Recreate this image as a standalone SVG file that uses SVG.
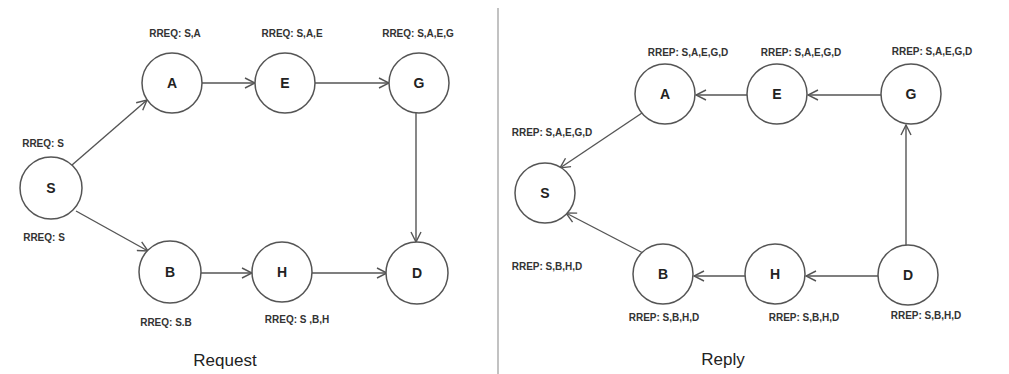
<svg xmlns="http://www.w3.org/2000/svg" width="1009" height="374" viewBox="0 0 1009 374">
<defs>
<style>
.n circle{fill:#fff;stroke:#555;stroke-width:1.5}
.n text{font-family:"Liberation Sans",Arial,sans-serif;font-weight:bold;font-size:14px;fill:#222;text-anchor:middle}
.lb{font-family:"Liberation Sans",Arial,sans-serif;font-weight:bold;font-size:10px;fill:#333;text-anchor:middle}
.cap{font-family:"Liberation Sans",Arial,sans-serif;font-size:17px;fill:#222;text-anchor:middle}
#edges line{stroke:#555;stroke-width:1.4;marker-end:url(#ah)}
</style>
<marker id="ah" viewBox="0 0 12 12" refX="11" refY="6" markerWidth="12" markerHeight="12" markerUnits="userSpaceOnUse" orient="auto">
<path d="M1,1 L11,6 L1,11" fill="none" stroke="#555" stroke-width="1.4"/>
</marker>
</defs>
<rect width="1009" height="374" fill="#fff"/>
<line x1="498" y1="8" x2="498" y2="374" stroke="#999" stroke-width="1.2"/>

<g id="edges">
<line x1="72" y1="165" x2="147" y2="100"/>
<line x1="202" y1="83" x2="255" y2="83"/>
<line x1="315" y1="83" x2="389" y2="83"/>
<line x1="416" y1="113" x2="416" y2="242"/>
<line x1="76" y1="211" x2="148" y2="251"/>
<line x1="200" y1="273" x2="252" y2="273"/>
<line x1="312" y1="273" x2="387" y2="273"/>
<line x1="642" y1="113" x2="560" y2="168"/>
<line x1="748" y1="95" x2="696" y2="95"/>
<line x1="881" y1="95" x2="808" y2="95"/>
<line x1="906" y1="245" x2="906" y2="125"/>
<line x1="643" y1="253" x2="566" y2="213"/>
<line x1="745" y1="276" x2="694" y2="276"/>
<line x1="878" y1="276" x2="806" y2="276"/>
</g>

<g id="req-S" class="n"><circle cx="51" cy="188" r="31"/><text x="51" y="193">S</text></g>
<g id="req-A" class="n"><circle cx="172" cy="83" r="30"/><text x="172" y="88">A</text></g>
<g id="req-E" class="n"><circle cx="285" cy="83" r="30"/><text x="285" y="88">E</text></g>
<g id="req-G" class="n"><circle cx="419" cy="83" r="30"/><text x="419" y="88">G</text></g>
<g id="req-B" class="n"><circle cx="170" cy="272" r="31"/><text x="170" y="277">B</text></g>
<g id="req-H" class="n"><circle cx="282" cy="272" r="30"/><text x="282" y="277">H</text></g>
<g id="req-D" class="n"><circle cx="417" cy="273" r="31"/><text x="417" y="278">D</text></g>

<g id="rep-S" class="n"><circle cx="545" cy="193" r="30"/><text x="545" y="198">S</text></g>
<g id="rep-A" class="n"><circle cx="665" cy="94" r="30"/><text x="665" y="99">A</text></g>
<g id="rep-E" class="n"><circle cx="777" cy="94" r="30"/><text x="777" y="99">E</text></g>
<g id="rep-G" class="n"><circle cx="911" cy="94" r="30"/><text x="911" y="99">G</text></g>
<g id="rep-B" class="n"><circle cx="663" cy="274" r="30"/><text x="663" y="279">B</text></g>
<g id="rep-H" class="n"><circle cx="775" cy="274" r="30"/><text x="775" y="279">H</text></g>
<g id="rep-D" class="n"><circle cx="908" cy="275" r="30"/><text x="908" y="280">D</text></g>

<g id="labels">
<text class="lb" x="175" y="37">RREQ: S,A</text>
<text class="lb" x="292" y="37">RREQ: S,A,E</text>
<text class="lb" x="418" y="37">RREQ: S,A,E,G</text>
<text class="lb" x="43" y="147">RREQ: S</text>
<text class="lb" x="44" y="241">RREQ: S</text>
<text class="lb" x="166" y="326">RREQ: S.B</text>
<text class="lb" x="297" y="323">RREQ: S ,B,H</text>
<text class="cap" x="225" y="366">Request</text>

<text class="lb" x="688" y="56">RREP: S,A,E,G,D</text>
<text class="lb" x="801" y="56">RREP: S,A,E,G,D</text>
<text class="lb" x="932" y="55">RREP: S,A,E,G,D</text>
<text class="lb" x="552" y="136">RREP: S,A,E,G,D</text>
<text class="lb" x="547" y="270">RREP: S,B,H,D</text>
<text class="lb" x="664" y="321">RREP: S,B,H,D</text>
<text class="lb" x="804" y="321">RREP: S,B,H,D</text>
<text class="lb" x="926" y="319">RREP: S,B,H,D</text>
<text class="cap" x="723" y="365">Reply</text>
</g>
</svg>
